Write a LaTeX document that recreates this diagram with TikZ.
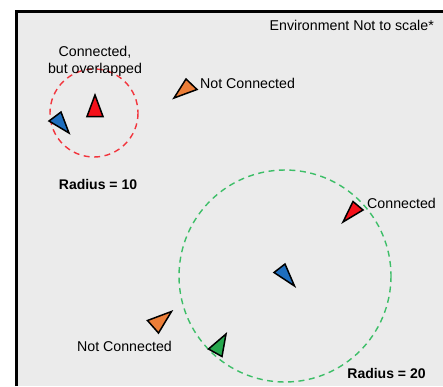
\documentclass[tikz,border=0pt]{standalone}
\usepackage{fontspec}
\setmainfont{Liberation Sans}
\definecolor{bg}{HTML}{EBEBEB}
\definecolor{tred}{HTML}{F5101A}
\definecolor{tblue}{HTML}{1E6EBE}
\definecolor{torange}{HTML}{EC7E38}
\definecolor{tgreen}{HTML}{27A84E}
\definecolor{cred}{HTML}{F2353D}
\definecolor{cgreen}{HTML}{3DBE68}
\begin{document}
\begin{tikzpicture}[x=1pt,y=-1pt,
  lbl/.style={font=\fontsize{14.2}{17}\selectfont, inner sep=0pt, align=center},
  blbl/.style={lbl, font=\fontsize{14}{17}\selectfont\bfseries},
  tri/.style={draw=black, line width=1.5pt, line join=miter},
  rangecircle/.style={line width=1.4pt, dash pattern=on 6pt off 4.5pt}]
\useasboundingbox (0,0) rectangle (443,386);
\fill[white] (0,0) rectangle (443,386);
\fill[bg] (16.5,11.5) rectangle (443,386);
\draw[line width=3pt] (16.5,386) -- (16.5,11.5) -- (443,11.5);

% range circles
\draw[rangecircle, cred] (94,113) circle (44);
\draw[rangecircle, cgreen] (285,276) circle (106);

% texts
\node[lbl, anchor=east] (env) at (434,25) {Environment Not to scale*};
\node[lbl] (overl) at (95,61) {Connected,\\but overlapped};
\node[lbl, anchor=west] (nc1) at (200,83) {Not Connected};
\node[blbl] (r10) at (98,184) {Radius = 10};
\node[lbl, anchor=west] (con) at (367,203) {Connected};
\node[lbl] (nc2) at (124.5,346) {Not Connected};
\node[blbl] (r20) at (386.5,373) {Radius = 20};

% agents
\filldraw[tri, fill=tred] (95,95) -- (87,116.5) -- (103,116.5) -- cycle;
\filldraw[tri, fill=tblue] (61,112) -- (49,121) -- (69,133) -- cycle;
\filldraw[tri, fill=torange] (174,98) -- (186,79) -- (197,89.5) -- cycle;
\filldraw[tri, fill=tred] (343,222) -- (353,201.5) -- (363,210) -- cycle;
\filldraw[tri, fill=tblue] (274,272.5) -- (285,264) -- (294.5,286) -- cycle;
\filldraw[tri, fill=torange] (147.5,320.5) -- (171.5,311.5) -- (158.5,333) -- cycle;
\filldraw[tri, fill=tgreen] (208.5,349) -- (226,334) -- (222,356.5) -- cycle;
\end{tikzpicture}
\end{document}
